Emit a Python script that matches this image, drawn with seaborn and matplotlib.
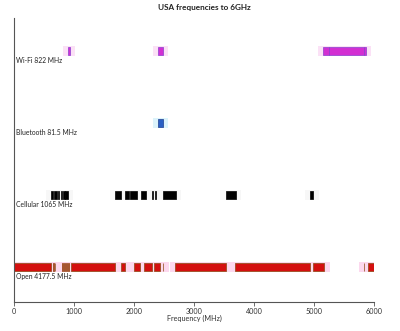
import matplotlib
matplotlib.use("Agg")
import matplotlib.pyplot as plt
import seaborn as sns

# Band allocations (start MHz, end MHz) per service
wifi_bands = [(902, 928), (2400, 2483.5), (5150, 5250), (5250, 5835), (5835, 5862.5)]
bluetooth_bands = [(2400, 2481.5)]
cellular_bands = [(617, 652), (660, 716), (728, 756), (776, 806), (816, 849), (849, 894),
                  (1690, 1780), (1850, 1920), (1930, 2050), (2110, 2200),
                  (2305, 2320), (2345, 2363), (2490, 2700), (3530, 3700), (4935, 4990)]
open_bands = [(0, 617), (652, 663), (676, 686), (800, 810), (834, 842), (874, 882),
              (900, 910), (945, 1690), (1790, 1845), (2000, 2100), (2170, 2305),
              (2335, 2435), (2485, 2490), (2690, 3530), (3690, 4935), (4990, 5168.5),
              (5835, 5840), (5905, 6000)]

services = ["Wi-Fi", "Bluetooth", "Cellular", "Open"]
bands = [wifi_bands, bluetooth_bands, cellular_bands, open_bands]
bar_colors = ["#d22fd2", "#2a5fc4", "#000000", "#d40f0f"]
edge_colors = ["#8a3fcf", "#1d3f8f", "#000000", "#8b4a10"]
halo_colors = ["#fbe1f6", "#dcf3fb", "#f7f7f7", "#fcd8ee"]
xticks = [0, 1000, 2000, 3000, 4000, 5000, 6000]

sns.set_theme(style="white")
plt.rcParams["font.family"] = ["Lato", "DejaVu Sans"]

fig = plt.figure(figsize=(4.0, 3.31), dpi=100)
ax = fig.add_axes([0.035, 0.0876, 0.9, 0.858])

n = len(services)
for i, (name, segs) in enumerate(zip(services, bands)):
    y = n - 1 - i
    total = sum(e - s for s, e in segs)
    halo = [(s - 90, (e - s) + 180) for s, e in segs]
    ax.broken_barh(halo, (y - 0.075, 0.15), facecolors=halo_colors[i], edgecolor="none", zorder=1)
    ax.broken_barh([(s, e - s) for s, e in segs], (y - 0.05, 0.1),
                   facecolors=bar_colors[i], edgecolors=edge_colors[i], linewidth=0.5, zorder=2)
    label_total = f"{total:g}"
    ax.text(25, y - 0.085, f"{name} {label_total} MHz", fontsize=4.9, color="#222222",
            ha="left", va="top", zorder=3)

ax.set_xlim(0, 6000)
ax.set_ylim(-0.486, 3.458)
ax.set_yticks([])
ax.set_xticks(xticks)
ax.set_xticklabels([str(t) for t in xticks], fontsize=5.2, color="#333333")
ax.tick_params(axis="x", direction="out", length=3, width=0.6, color="#555555", pad=1, bottom=True)
ax.set_xlabel("Frequency (MHz)", fontsize=5.2, color="#333333", labelpad=0.5)
sns.despine(ax=ax, top=True, right=True)
for side in ("left", "bottom"):
    ax.spines[side].set_color("#555555")
    ax.spines[side].set_linewidth(0.8)

fig.text(0.512, 0.988, "USA frequencies to 6GHz", fontsize=5.9, fontweight="bold",
         color="#222222", ha="center", va="top")

fig.savefig("out.png", dpi=100)
